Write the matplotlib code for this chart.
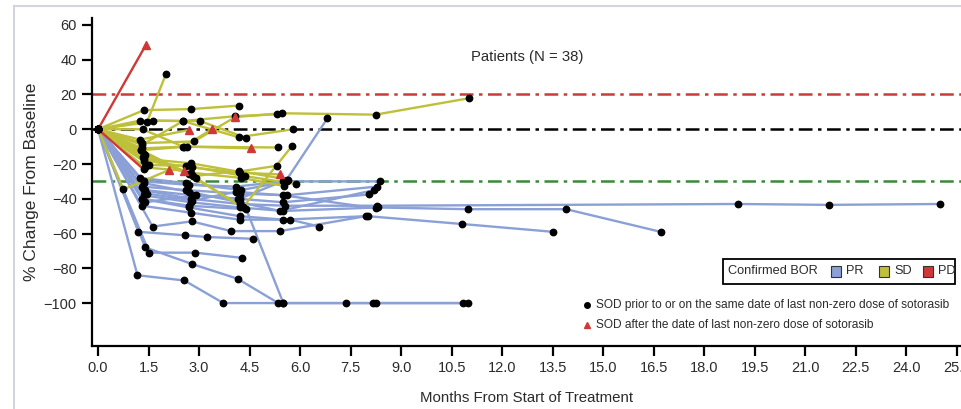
import matplotlib
matplotlib.use("Agg")
import matplotlib.pyplot as plt
from matplotlib.lines import Line2D
from matplotlib.patches import Rectangle

# ---- data: months from start of treatment and % change of SOD from baseline ----
pr_months = [
    [0, 1.17, 2.56, 3.72, 5.48, 7.36, 8.24, 10.99],
    [0, 1.52, 2.89, 4.27],
    [0, 1.40, 2.80, 4.14, 5.35, 8.15, 10.84],
    [0, 1.20, 2.58, 3.22, 4.59],
    [0, 1.62, 2.78, 3.95, 5.40, 7.95],
    [0, 1.30, 2.70, 4.40, 5.50],
    [0, 1.35, 2.75, 4.20, 5.50, 8.30, 10.98, 13.90, 16.70],
    [0, 1.35, 2.75, 4.20, 5.55, 8.27, 19.00, 21.70, 25.00],
    [0, 1.30, 2.70, 4.20, 5.50, 8.00, 10.80, 13.50],
    [0, 1.40, 2.80, 4.20, 5.60, 6.81],
    [0, 1.35, 2.70, 4.10, 5.50, 8.37],
    [0, 1.30, 2.60, 4.20, 5.60, 8.27],
    [0, 1.40, 2.90, 4.15, 5.50, 8.05],
    [0, 1.30, 2.75, 4.20, 5.70, 6.57],
    [0, 1.45, 2.80, 4.10, 5.50, 8.24],
    [0, 1.25, 2.60, 4.25, 5.60],
    [0, 1.35, 2.70, 4.20, 5.40, 8.20],
]
pr_change = [
    [0, -84, -87, -100, -100, -100, -100, -100],
    [0, -71, -71, -74],
    [0, -68, -77.6, -86, -100, -100, -100],
    [0, -59, -61, -62, -63],
    [0, -56, -53, -58.6, -58.6, -50],
    [0, -40, -44, -46, -100],
    [0, -38, -42, -45, -47, -45, -46, -46, -59],
    [0, -35, -40, -43, -44, -44, -43, -43.5, -43],
    [0, -40, -45, -50, -52, -50, -54.5, -59],
    [0, -35, -38, -40, -29, 6.3],
    [0, -30, -32, -33, -30, -30],
    [0, -33, -35, -37, -38, -33],
    [0, -42, -38, -40, -42, -37.5],
    [0, -44, -48, -52, -52, -56],
    [0, -37, -41, -36, -38, -45.5],
    [0, -28, -31, -35, -30],
    [0, -31, -36, -42, -47, -35],
]
pr_after = [[] for _ in pr_months]

sd_months = [
    [0, 1.36, 2.76, 4.17],
    [0, 1.45, 2.02],
    [0, 1.25, 2.52, 4.07, 5.30],
    [0, 1.62, 3.03, 4.40],
    [0, 1.30, 2.85, 4.07, 5.46, 8.24, 11.00],
    [0, 1.32, 2.53, 3.38],
    [0, 1.30, 2.54, 5.35],
    [0, 1.28, 2.63, 4.53],
    [0, 1.35, 2.90, 4.30, 5.76],
    [0, 1.25, 2.70],
    [0, 1.35, 2.76, 4.17, 5.31],
    [0, 1.51, 2.61, 4.37, 5.87],
    [0, 0.75, 2.10],
    [0, 1.40, 2.54],
    [0, 1.38, 2.83, 4.17, 5.64],
    [0, 1.30, 2.52, 4.17, 5.79],
    [0, 1.33, 2.75, 4.25, 5.52],
    [0, 1.35, 2.80, 4.20, 5.40],
    [0, 1.28, 2.70, 4.29],
]
sd_change = [
    [0, 11, 11.6, 13.6],
    [0, 4, 32],
    [0, 5, 4.7, 7.5, 8.6],
    [0, 5, 4.7, -5],
    [0, -8, -7, 7, 9.2, 8.4, 17.8],
    [0, 0, -10, 0],
    [0, -11, -10, -10.5],
    [0, -12, -10, -11],
    [0, -14, -28, -45, -9.6],
    [0, -6, -0.4],
    [0, -17, -19.6, -24.4, -21],
    [0, -20.6, -21, -27, -31.5],
    [0, -34.6, -23.5],
    [0, -22, -23.8],
    [0, -15, -27, -24, -29],
    [0, -9, 4.7, -4.6, 0],
    [0, -16, -25, -28, -32.6],
    [0, -18, -22, -25, -26],
    [0, -12, -26, -45],
]
sd_after = [[], [], [], [], [3], [3], [], [3], [], [2], [], [], [2], [2], [], [], [], [4], []]

pd_months = [[0, 1.42], [0, 1.35]]
pd_change = [[0, 48.5], [0, -23]]
pd_after = [[1], []]

x_ticks = [0.0, 1.5, 3.0, 4.5, 6.0, 7.5, 9.0, 10.5, 12.0, 13.5, 15.0, 16.5,
           18.0, 19.5, 21.0, 22.5, 24.0, 25.5]
y_ticks = [-100, -80, -60, -40, -20, 0, 20, 40, 60]
ref_levels = [20, 0, -30]
ref_colors = ["#c83c3c", "#000000", "#3a8a3a"]

bor_labels = ["PR", "SD", "PD"]
bor_colors = ["#8aa0d6", "#bfc03a", "#d03838"]
line_colors = {"PR": "#8aa0d6", "SD": "#bfc03a", "PD": "#d03838"}

FONT = ["Liberation Sans", "DejaVu Sans"]
TXT = "#2b2b2b"

W, H = 961, 409
fig = plt.figure(figsize=(W / 100, H / 100), dpi=100)
fig.patch.set_facecolor("white")


def fx(px):
    return px / W


def fy(py):
    return 1 - py / H


ax = fig.add_axes([fx(92), fy(346), fx(961) - fx(92), fy(18) - fy(346)])
ax.set_xlim(-0.18, 25.62)
ax.set_ylim(-124.7, 64)

for s in ("top", "right"):
    ax.spines[s].set_visible(False)
for s in ("left", "bottom"):
    ax.spines[s].set_linewidth(1.6)
    ax.spines[s].set_color("black")

# reference thresholds
for lvl, col in zip(ref_levels, ref_colors):
    ax.axhline(lvl, color=col, lw=1.8, ls=(0, (5.5, 2.2, 1.4, 2.2)), zorder=1)

groups = [
    ("PR", pr_months, pr_change, pr_after),
    ("SD", sd_months, sd_change, sd_after),
    ("PD", pd_months, pd_change, pd_after),
]

for name, months, change, _ in groups:
    for m, c in zip(months, change):
        ax.plot(m, c, color=line_colors[name], lw=1.7, zorder=2,
                solid_capstyle="round")

for name, months, change, after in groups:
    for m, c, a in zip(months, change, after):
        dots_x = [v for i, v in enumerate(m) if i not in a]
        dots_y = [v for i, v in enumerate(c) if i not in a]
        ax.plot(dots_x, dots_y, ls="none", marker="o", ms=4.6,
                color="black", zorder=4)
        if a:
            ax.plot([m[i] for i in a], [c[i] for i in a], ls="none",
                    marker="^", ms=5.5, color="#d03838", zorder=5)

ax.set_xticks(x_ticks)
ax.set_xticklabels([f"{v:.1f}" for v in x_ticks])
ax.set_yticks(y_ticks)
ax.set_yticklabels([str(v).replace("-", "\u2212") for v in y_ticks])
ax.tick_params(axis="both", direction="out", length=7, width=1.6,
               labelsize=10.5, colors="black", pad=4)
for lab in ax.get_xticklabels() + ax.get_yticklabels():
    lab.set_family(FONT)
    lab.set_color(TXT)

ax.set_xlabel("Months From Start of Treatment", family=FONT, fontsize=10.8,
              color=TXT, labelpad=11)
ax.set_ylabel("% Change From Baseline", family=FONT, fontsize=12.5,
              color=TXT, labelpad=3.5)

fig.text(fx(527), fy(57), "Patients (N = 38)", family=FONT, fontsize=10.7,
         color=TXT, ha="center", va="center")

# BOR legend box
fig.add_artist(Rectangle((fx(723), fy(284)), fx(955) - fx(723), fy(259) - fy(284),
                         transform=fig.transFigure, fill=False, ec="black", lw=1.3))
fig.text(fx(728), fy(271.5), "Confirmed BOR", family=FONT, fontsize=9.2,
         color=TXT, ha="left", va="center")
sq_x = [831, 879, 923]
for x0, lab, col in zip(sq_x, bor_labels, bor_colors):
    fig.add_artist(Rectangle((fx(x0), fy(277)), fx(10), fy(266) - fy(277),
                             transform=fig.transFigure, fc=col, ec="#333333", lw=0.8))
    fig.text(fx(x0 + 15), fy(271.5), lab, family=FONT, fontsize=9.2,
             color=TXT, ha="left", va="center")

# marker explanation
fig.add_artist(Line2D([fx(587)], [fy(305)], marker="o", ms=4, color="black",
                      transform=fig.transFigure))
fig.text(fx(596), fy(305), "SOD prior to or on the same date of last non-zero dose of sotorasib",
         family=FONT, fontsize=8.6, color=TXT, ha="left", va="center")
fig.add_artist(Line2D([fx(587)], [fy(325)], marker="^", ms=4.5, color="#d03838",
                      transform=fig.transFigure))
fig.text(fx(596), fy(325), "SOD after the date of last non-zero dose of sotorasib",
         family=FONT, fontsize=8.6, color=TXT, ha="left", va="center")

# light frame around the panel
fig.add_artist(Line2D([fx(14), fx(14)], [fy(6), 0], color="#d4d4dc", lw=1.5,
                      transform=fig.transFigure))
fig.add_artist(Line2D([fx(14), 1], [fy(6), fy(6)], color="#d4d4dc", lw=1.5,
                      transform=fig.transFigure))

fig.savefig("out.png", dpi=100)
